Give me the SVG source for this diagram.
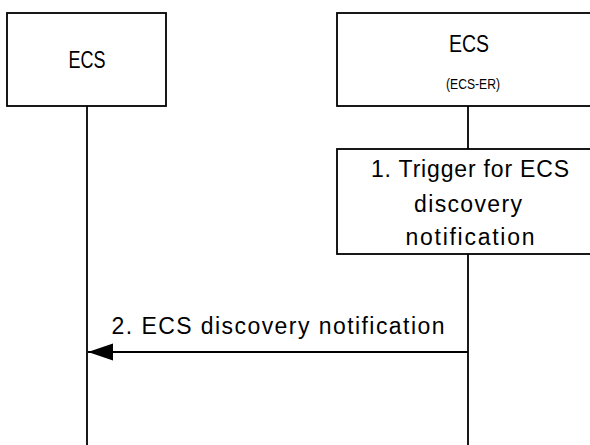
<svg xmlns="http://www.w3.org/2000/svg" width="590" height="445" viewBox="0 0 590 445">
<defs>
<style>
.box{fill:#fff;stroke:#000;stroke-width:1.8}
.ln{stroke:#000;stroke-width:1.8;fill:none}
.t{font-family:"Liberation Sans",Arial,sans-serif;fill:#000;text-anchor:middle}
</style>
<marker id="ah" markerUnits="userSpaceOnUse" markerWidth="26" markerHeight="18" refX="25" refY="8.5" orient="auto">
<path d="M0,0 L25,8.5 L0,17 z" fill="#000"/>
</marker>
</defs>
<rect width="590" height="445" fill="#fff"/>
<g id="connectors">
<line class="ln" x1="87" y1="106" x2="87" y2="445"/>
<line class="ln" x1="468" y1="106" x2="468" y2="149"/>
<line class="ln" x1="468" y1="254" x2="468" y2="445"/>
<line class="ln" x1="468" y1="352" x2="88" y2="352" marker-end="url(#ah)"/>
<text class="t" x="278" y="334" font-size="23" textLength="333" lengthAdjust="spacing">2. ECS discovery notification</text>
</g>
<g id="ecs-left">
<rect class="box" x="7" y="13" width="159" height="93"/>
<text class="t" x="87" y="68" font-size="23" textLength="37" lengthAdjust="spacingAndGlyphs">ECS</text>
</g>
<g id="ecs-er">
<rect class="box" x="337" y="13" width="270" height="93"/>
<text class="t" x="469" y="52" font-size="23" textLength="40" lengthAdjust="spacingAndGlyphs">ECS</text>
<text class="t" x="473" y="89" font-size="15" textLength="54" lengthAdjust="spacingAndGlyphs">(ECS-ER)</text>
</g>
<g id="step1">
<rect class="box" x="337" y="149" width="270" height="105"/>
<text class="t" x="470" y="177" font-size="23" textLength="198" lengthAdjust="spacing">1. Trigger for ECS</text>
<text class="t" x="468" y="212" font-size="23" textLength="108" lengthAdjust="spacing">discovery</text>
<text class="t" x="470" y="245" font-size="23" textLength="129" lengthAdjust="spacing">notification</text>
</g>
</svg>
